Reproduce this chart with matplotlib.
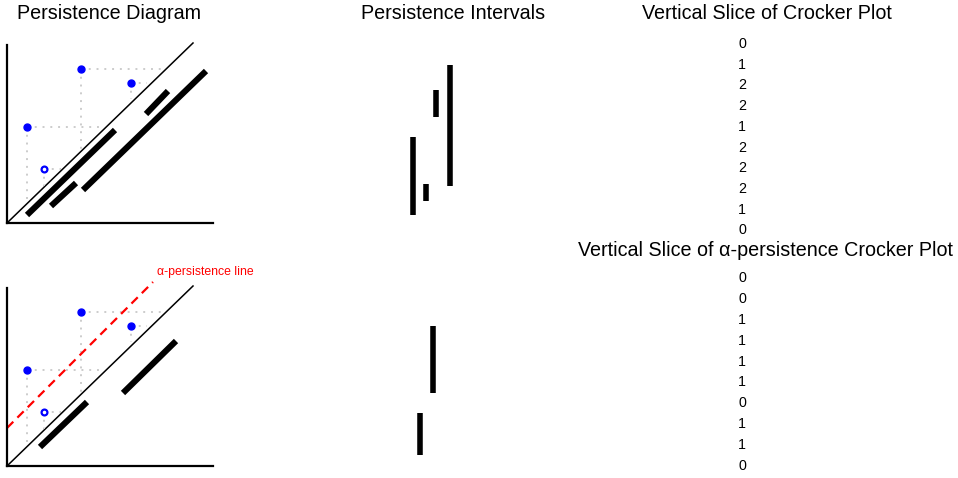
import numpy as np
import matplotlib
matplotlib.use("Agg")
import matplotlib.pyplot as plt

plt.rcParams['font.family'] = ['Liberation Sans', 'DejaVu Sans']

# persistence points (birth, death), same for both diagrams
births = [74, 124, 20, 37]
deaths = [154, 140, 96, 54]
hollow = [False, False, False, True]

# thick bars drawn under the diagonal (x0, y0, x1, y1)
top_bars_x0 = [20, 44, 76, 139]
top_bars_y0 = [8, 17, 33, 109]
top_bars_x1 = [108, 69, 199, 161]
top_bars_y1 = [93, 40, 152, 132]

bot_bars_x0 = [33, 116]
bot_bars_y0 = [19, 73]
bot_bars_x1 = [80, 169]
bot_bars_y1 = [64, 125]

alpha_offset = 38

# persistence intervals (x position, top, bottom) in picture coords
top_int_x = [413.5, 426, 436, 450.5]
top_int_y0 = [137, 184, 90, 65]
top_int_y1 = [215, 201, 117, 186]

bot_int_x = [433.5, 420.5]
bot_int_y0 = [326, 413]
bot_int_y1 = [393, 455]

# crocker slices
top_counts = [0, 1, 2, 2, 1, 2, 2, 2, 1, 0]
bot_counts = [0, 0, 1, 1, 1, 1, 0, 1, 1, 0]

W, H = 958, 478
fig = plt.figure(figsize=(W / 100, H / 100), dpi=100)

# background axes in picture coordinates
bg = fig.add_axes([0, 0, 1, 1])
bg.set_xlim(0, W)
bg.set_ylim(H, 0)
bg.axis('off')


def diagram(x0, y_bottom, y_top, x1, bars, alpha=False):
    ax = fig.add_axes([x0 / W, 1 - y_bottom / H, (x1 - x0) / W, (y_bottom - y_top) / H])
    ax.set_xlim(0, x1 - x0)
    ax.set_ylim(0, y_bottom - y_top)
    for s in ['top', 'right']:
        ax.spines[s].set_visible(False)
    for s in ['left', 'bottom']:
        ax.spines[s].set_linewidth(1.6)
    ax.set_xticks([])
    ax.set_yticks([])
    ax.patch.set_alpha(0)

    ax.plot([0, 186], [0, 180], color='black', lw=1.1, clip_on=False)
    for b, d in zip(births, deaths):
        ax.plot([b, d], [d, d], color='#cccccc', lw=1.4, ls=(0, (1, 3)))
        ax.plot([b, b], [d, b], color='#cccccc', lw=1.4, ls=(0, (1, 3)))
    for b, d, h in zip(births, deaths, hollow):
        if h:
            ax.plot(b, d, 'o', ms=4.2, mfc='white', mec='blue', mew=1.6)
        else:
            ax.plot(b, d, 'o', ms=5, color='blue')
    bx0, by0, bx1, by1 = bars
    for a, b, c, d in zip(bx0, by0, bx1, by1):
        ax.plot([a, c], [b, d], color='black', lw=4.4, solid_capstyle='butt')
    if alpha:
        xs = np.array([0, 146])
        ax.plot(xs, xs + alpha_offset, color='red', lw=1.6, dashes=(4, 2.6), clip_on=False)
        ax.text(150, 194, 'α-persistence line', color='red', fontsize=8.8,
                ha='left', va='center', clip_on=False)
    return ax


diagram(7, 223, 45, 213, (top_bars_x0, top_bars_y0, top_bars_x1, top_bars_y1))
diagram(7, 466, 288, 213, (bot_bars_x0, bot_bars_y0, bot_bars_x1, bot_bars_y1), alpha=True)

# persistence intervals
for x, a, b in zip(top_int_x + bot_int_x, top_int_y0 + bot_int_y0, top_int_y1 + bot_int_y1):
    bg.plot([x, x], [a, b], color='black', lw=4.0, solid_capstyle='butt')

# crocker slices
for i, c in enumerate(top_counts):
    bg.text(742, 44 + 20.7 * i, str(c), ha='center', va='center', fontsize=10.3)
for i, c in enumerate(bot_counts):
    bg.text(742, 278 + 20.9 * i, str(c), ha='center', va='center', fontsize=10.3)

# titles
bg.text(109.5, 13, 'Persistence Diagram', ha='center', va='center', fontsize=14.2)
bg.text(453, 13, 'Persistence Intervals', ha='center', va='center', fontsize=14.2)
bg.text(767, 13, 'Vertical Slice of Crocker Plot', ha='center', va='center', fontsize=14.2)
bg.text(766, 250, 'Vertical Slice of α-persistence Crocker Plot', ha='center', va='center',
        fontsize=14.2)

fig.savefig('out.png', dpi=100)
